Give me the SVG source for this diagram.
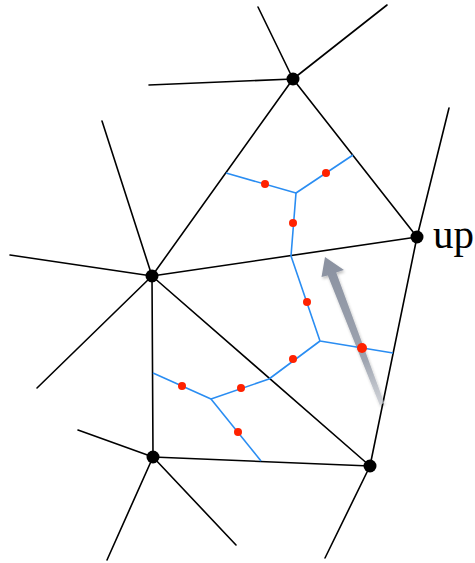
<svg xmlns="http://www.w3.org/2000/svg" width="475" height="563" viewBox="0 0 475 563">
<defs>
<style>
.e{stroke:#000;stroke-width:1.6;fill:none;stroke-linecap:round}
.b{stroke:#2a8df2;stroke-width:1.6;fill:none;stroke-linejoin:round}
.v{fill:#000}
.r{fill:#ff2200}
.lbl{font-family:"Liberation Serif","Times New Roman",serif;font-size:41px;fill:#000}
</style>
<linearGradient id="ag" gradientUnits="userSpaceOnUse" x1="325" y1="257" x2="382" y2="404">
<stop offset="0" stop-color="#8a91a0"/>
<stop offset="0.7" stop-color="#9ea4b0"/>
<stop offset="1" stop-color="#c4c8cf" stop-opacity="0.7"/>
</linearGradient>
<filter id="sh" x="-50%" y="-20%" width="200%" height="140%">
<feGaussianBlur in="SourceAlpha" stdDeviation="1.5"/>
<feOffset dx="1" dy="1.5" result="o"/>
<feComponentTransfer><feFuncA type="linear" slope="0.25"/></feComponentTransfer>
<feMerge><feMergeNode/><feMergeNode in="SourceGraphic"/></feMerge>
</filter>
</defs>
<rect width="475" height="563" fill="#fff"/>
<g id="connectors">
<line class="e" x1="293" y1="79" x2="152" y2="276"/>
<line class="e" x1="293" y1="79" x2="417" y2="237"/>
<line class="e" x1="152" y1="276" x2="417" y2="237"/>
<line class="e" x1="152" y1="276" x2="153" y2="457"/>
<line class="e" x1="152" y1="276" x2="370" y2="466"/>
<line class="e" x1="153" y1="457" x2="370" y2="466"/>
<line class="e" x1="417" y1="237" x2="370" y2="466"/>
<line class="e" x1="293" y1="79" x2="258" y2="7"/>
<line class="e" x1="293" y1="79" x2="387" y2="5"/>
<line class="e" x1="293" y1="79" x2="149" y2="85"/>
<line class="e" x1="417" y1="237" x2="449" y2="108"/>
<line class="e" x1="152" y1="276" x2="102" y2="121"/>
<line class="e" x1="152" y1="276" x2="10" y2="255"/>
<line class="e" x1="152" y1="276" x2="37" y2="388"/>
<line class="e" x1="153" y1="457" x2="78" y2="430"/>
<line class="e" x1="153" y1="457" x2="107" y2="560"/>
<line class="e" x1="153" y1="457" x2="236" y2="545"/>
<line class="e" x1="370" y1="466" x2="325" y2="558"/>
</g>
<g id="arrow">
<polygon points="325,257 344,270 336.2,272.4 384.3,403.1 379.7,404.9 327.8,275.6 321.5,277" fill="url(#ag)" filter="url(#sh)"/>
</g>
<g id="dual">
<polyline class="b" points="226,173 296,193 353,155"/>
<polyline class="b" points="296,193 291,256 320,341 393,353"/>
<polyline class="b" points="320,341 269,379 211,399 153,373"/>
<polyline class="b" points="211,399 261,461"/>
<circle class="r" cx="265" cy="184" r="4"/>
<circle class="r" cx="326" cy="173" r="4"/>
<circle class="r" cx="293" cy="223" r="4"/>
<circle class="r" cx="307" cy="302" r="4"/>
<circle class="r" cx="293" cy="359" r="4"/>
<circle class="r" cx="362" cy="348" r="5"/>
<circle class="r" cx="182" cy="386" r="4"/>
<circle class="r" cx="241" cy="388" r="4"/>
<circle class="r" cx="238" cy="432" r="4"/>
</g>
<g id="nA"><circle class="v" cx="293" cy="79" r="6.5"/></g>
<g id="nB"><circle class="v" cx="417" cy="237" r="6.5"/><text class="lbl" x="433" y="248">up</text></g>
<g id="nC"><circle class="v" cx="152" cy="276" r="6.5"/></g>
<g id="nD"><circle class="v" cx="153" cy="457" r="6.5"/></g>
<g id="nE"><circle class="v" cx="370" cy="466" r="6.5"/></g>
</svg>
